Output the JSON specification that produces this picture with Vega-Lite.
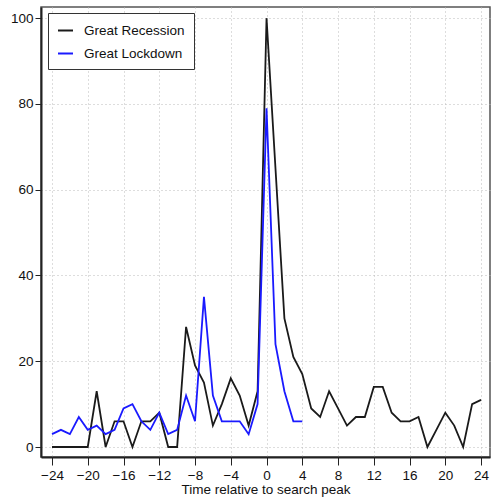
{
  "$schema": "https://vega.github.io/schema/vega-lite/v6.json",
  "width": 449,
  "height": 450,
  "autosize": {"type": "none"},
  "padding": {"left": 41, "top": 7, "right": 4, "bottom": 45},
  "background": "white",
  "config": {
    "font": "Liberation Sans",
    "view": {"stroke": "#555", "strokeWidth": 1.5},
    "axis": {
      "gridColor": "#bbbbbb",
      "gridDash": [1, 3],
      "gridWidth": 1,
      "domainColor": "#222",
      "domainWidth": 2,
      "tickColor": "#222",
      "tickWidth": 1,
      "labelFont": "Liberation Sans",
      "labelFontSize": 13.5,
      "labelColor": "#111",
      "titleFont": "Liberation Sans",
      "titleFontSize": 13.5,
      "titleFontWeight": "normal",
      "titleColor": "#111"
    }
  },
  "data": {
    "values": [
      {"t": -24, "v": 0, "s": "Great Recession"},
      {"t": -23, "v": 0, "s": "Great Recession"},
      {"t": -22, "v": 0, "s": "Great Recession"},
      {"t": -21, "v": 0, "s": "Great Recession"},
      {"t": -20, "v": 0, "s": "Great Recession"},
      {"t": -19, "v": 13, "s": "Great Recession"},
      {"t": -18, "v": 0, "s": "Great Recession"},
      {"t": -17, "v": 6, "s": "Great Recession"},
      {"t": -16, "v": 6, "s": "Great Recession"},
      {"t": -15, "v": 0, "s": "Great Recession"},
      {"t": -14, "v": 6, "s": "Great Recession"},
      {"t": -13, "v": 6, "s": "Great Recession"},
      {"t": -12, "v": 8, "s": "Great Recession"},
      {"t": -11, "v": 0, "s": "Great Recession"},
      {"t": -10, "v": 0, "s": "Great Recession"},
      {"t": -9, "v": 28, "s": "Great Recession"},
      {"t": -8, "v": 19, "s": "Great Recession"},
      {"t": -7, "v": 15, "s": "Great Recession"},
      {"t": -6, "v": 5, "s": "Great Recession"},
      {"t": -5, "v": 10, "s": "Great Recession"},
      {"t": -4, "v": 16, "s": "Great Recession"},
      {"t": -3, "v": 12, "s": "Great Recession"},
      {"t": -2, "v": 5, "s": "Great Recession"},
      {"t": -1, "v": 13, "s": "Great Recession"},
      {"t": 0, "v": 100, "s": "Great Recession"},
      {"t": 1, "v": 65, "s": "Great Recession"},
      {"t": 2, "v": 30, "s": "Great Recession"},
      {"t": 3, "v": 21, "s": "Great Recession"},
      {"t": 4, "v": 17, "s": "Great Recession"},
      {"t": 5, "v": 9, "s": "Great Recession"},
      {"t": 6, "v": 7, "s": "Great Recession"},
      {"t": 7, "v": 13, "s": "Great Recession"},
      {"t": 8, "v": 9, "s": "Great Recession"},
      {"t": 9, "v": 5, "s": "Great Recession"},
      {"t": 10, "v": 7, "s": "Great Recession"},
      {"t": 11, "v": 7, "s": "Great Recession"},
      {"t": 12, "v": 14, "s": "Great Recession"},
      {"t": 13, "v": 14, "s": "Great Recession"},
      {"t": 14, "v": 8, "s": "Great Recession"},
      {"t": 15, "v": 6, "s": "Great Recession"},
      {"t": 16, "v": 6, "s": "Great Recession"},
      {"t": 17, "v": 7, "s": "Great Recession"},
      {"t": 18, "v": 0, "s": "Great Recession"},
      {"t": 19, "v": 4, "s": "Great Recession"},
      {"t": 20, "v": 8, "s": "Great Recession"},
      {"t": 21, "v": 5, "s": "Great Recession"},
      {"t": 22, "v": 0, "s": "Great Recession"},
      {"t": 23, "v": 10, "s": "Great Recession"},
      {"t": 24, "v": 11, "s": "Great Recession"},
      {"t": -24, "v": 3, "s": "Great Lockdown"},
      {"t": -23, "v": 4, "s": "Great Lockdown"},
      {"t": -22, "v": 3, "s": "Great Lockdown"},
      {"t": -21, "v": 7, "s": "Great Lockdown"},
      {"t": -20, "v": 4, "s": "Great Lockdown"},
      {"t": -19, "v": 5, "s": "Great Lockdown"},
      {"t": -18, "v": 3, "s": "Great Lockdown"},
      {"t": -17, "v": 4, "s": "Great Lockdown"},
      {"t": -16, "v": 9, "s": "Great Lockdown"},
      {"t": -15, "v": 10, "s": "Great Lockdown"},
      {"t": -14, "v": 6, "s": "Great Lockdown"},
      {"t": -13, "v": 4, "s": "Great Lockdown"},
      {"t": -12, "v": 8, "s": "Great Lockdown"},
      {"t": -11, "v": 3, "s": "Great Lockdown"},
      {"t": -10, "v": 4, "s": "Great Lockdown"},
      {"t": -9, "v": 12, "s": "Great Lockdown"},
      {"t": -8, "v": 6, "s": "Great Lockdown"},
      {"t": -7, "v": 35, "s": "Great Lockdown"},
      {"t": -6, "v": 12, "s": "Great Lockdown"},
      {"t": -5, "v": 6, "s": "Great Lockdown"},
      {"t": -4, "v": 6, "s": "Great Lockdown"},
      {"t": -3, "v": 6, "s": "Great Lockdown"},
      {"t": -2, "v": 3, "s": "Great Lockdown"},
      {"t": -1, "v": 10, "s": "Great Lockdown"},
      {"t": 0, "v": 79, "s": "Great Lockdown"},
      {"t": 1, "v": 24, "s": "Great Lockdown"},
      {"t": 2, "v": 13, "s": "Great Lockdown"},
      {"t": 3, "v": 6, "s": "Great Lockdown"},
      {"t": 4, "v": 6, "s": "Great Lockdown"}
    ]
  },
  "mark": {"type": "line", "strokeWidth": 1.8},
  "encoding": {
    "x": {
      "field": "t",
      "type": "quantitative",
      "scale": {"domain": [-25.23, 25], "nice": false, "zero": false},
      "axis": {
        "values": [-24, -20, -16, -12, -8, -4, 0, 4, 8, 12, 16, 20, 24],
        "title": "Time relative to search peak",
        "tickSize": 8,
        "labelPadding": 3,
        "titlePadding": 1,
        "grid": true
      }
    },
    "y": {
      "field": "v",
      "type": "quantitative",
      "scale": {"domain": [-2.33, 102.6], "nice": false, "zero": false},
      "axis": {
        "values": [0, 20, 40, 60, 80, 100],
        "title": null,
        "tickSize": 6,
        "labelPadding": 2,
        "grid": true
      }
    },
    "color": {
      "field": "s",
      "type": "nominal",
      "scale": {"domain": ["Great Recession", "Great Lockdown"], "range": ["#1a1a1a", "#1a1aff"]},
      "legend": {
        "title": null,
        "orient": "none",
        "legendX": 7,
        "legendY": 6,
        "strokeColor": "#333",
        "fillColor": "white",
        "padding": 9,
        "symbolType": "stroke",
        "symbolSize": 225,
        "symbolStrokeWidth": 2,
        "labelFont": "Liberation Sans",
        "labelFontSize": 13.5,
        "labelColor": "#111",
        "labelOffset": 10,
        "rowPadding": 8,
        "labelLimit": 300
      }
    },
    "order": {"field": "t", "type": "quantitative"}
  }
}
